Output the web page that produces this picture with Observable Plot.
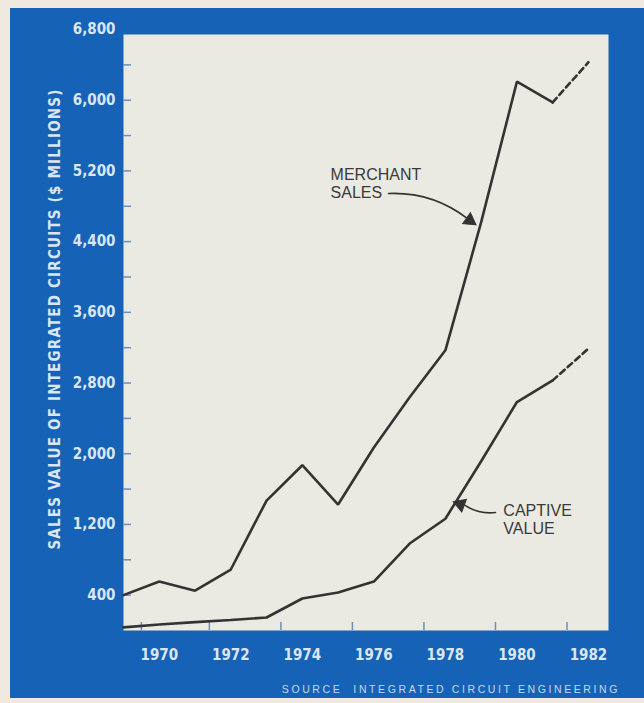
<!DOCTYPE html>
<html>
<head>
<meta charset="utf-8">
<script src="https://cdn.jsdelivr.net/npm/d3@7"></script>
<script src="https://cdn.jsdelivr.net/npm/@observablehq/plot@0.6"></script>
<style>
  html, body { margin: 0; padding: 0; background: #efe9df; }
  #panel { position: absolute; left: 10px; top: 8px; width: 634px; height: 690px; background: #1662b6; overflow: hidden; }
  #chart svg { display: block; }
  #caption { position: absolute; left: 0; right: 24px; top: 675px; text-align: right;
    font-family: "Liberation Sans", Arial, sans-serif; font-size: 10.5px; letter-spacing: 2.6px; color: #c9d8ec; }
  g[aria-label="y-axis label"] text { letter-spacing: 1.2px; }
</style>
</head>
<body>
<div id="panel">
  <div id="chart"></div>
  <div id="caption">SOURCE&nbsp; INTEGRATED CIRCUIT ENGINEERING</div>
</div>
<script>
// ---- data ----
const years = [1969, 1970, 1971, 1972, 1973, 1974, 1975, 1976, 1977, 1978, 1979, 1980, 1981];
const merchant = [400, 555, 450, 690, 1470, 1870, 1425, 2070, 2640, 3170, 4620, 6210, 5975];
const captive = [35, 68, 95, 119, 147, 362, 430, 554, 984, 1265, 1915, 2585, 2830];
const projYears = [1981, 1982];
const merchantProj = [5975, 6430];
const captiveProj = [2830, 3190];
const yTickLabels = [400, 1200, 2000, 2800, 3600, 4400, 5200, 6000, 6800];
const yTickMarks = [400, 800, 1200, 1600, 2000, 2400, 2800, 3200, 3600, 4000, 4400, 4800, 5200, 5600, 6000, 6400];
const xTickLabels = [1970, 1972, 1974, 1976, 1978, 1980, 1982];
const xTickMarks = [1969.5, 1971.4, 1973.4, 1975.4, 1977.4, 1979.4, 1981.4];
const labels = [
  {text: "MERCHANT\nSALES", year: 1974.79, value: 5239},
  {text: "CAPTIVE\nVALUE", year: 1979.62, value: 1437}
];
const arrows = [
  {x1: 1976.41, y1: 4945, x2: 1978.62, y2: 4660},
  {x1: 1979.40, y1: 1335, x2: 1978.55, y2: 1415}
];
const heads = [
  {year: 1978.68, value: 4640, angle: 125},
  {year: 1978.42, value: 1428, angle: 290}
];

const mainData = years.flatMap((y, i) => [
  {year: y, value: merchant[i], series: "merchant"},
  {year: y, value: captive[i], series: "captive"}
]);
const projData = projYears.flatMap((y, i) => [
  {year: y, value: merchantProj[i], series: "merchant"},
  {year: y, value: captiveProj[i], series: "captive"}
]);

const ink = "#333333";
const axisText = "#dbe6f3";
const tickBlue = "#6b8fc4";
const condensed = "'Liberation Sans Narrow', 'DejaVu Sans Condensed', 'Roboto Condensed', Roboto, sans-serif";

const chart = Plot.plot({
  width: 634,
  height: 665,
  marginLeft: 113,
  marginRight: 36,
  marginTop: 21,
  marginBottom: 43,
  x: {domain: [1969, 1982.56]},
  y: {domain: [0, 6800]},
  style: {background: "transparent", overflow: "visible"},
  marks: [
    Plot.frame({fill: "#eae9e2", insetTop: 5}),
    Plot.axisY(yTickMarks, {tickSize: -8, tickFormat: () => "", stroke: tickBlue, strokeWidth: 1.5, label: null}),
    Plot.axisY(yTickLabels, {
      tickSize: 0, tickPadding: 8, tickFormat: d3.format(","),
      fontSize: 15, fontWeight: "bold", fontFamily: condensed, fill: axisText,
      label: "SALES VALUE OF INTEGRATED CIRCUITS ($ MILLIONS)", labelAnchor: "center", labelArrow: "none", labelOffset: 74
    }),
    Plot.axisX(xTickMarks, {tickSize: -8, tickFormat: () => "", stroke: tickBlue, strokeWidth: 1.5, label: null}),
    Plot.axisX(xTickLabels, {
      tickSize: 0, tickPadding: 19, tickFormat: d => String(d),
      fontSize: 15, fontWeight: "bold", fontFamily: condensed, fill: axisText, label: null
    }),
    Plot.line(mainData, {x: "year", y: "value", z: "series", stroke: ink, strokeWidth: 2.6, strokeLinejoin: "miter"}),
    Plot.line(projData, {x: "year", y: "value", z: "series", stroke: ink, strokeWidth: 2.6, strokeDasharray: "6,4"}),
    Plot.arrow(arrows, {x1: "x1", y1: "y1", x2: "x2", y2: "y2", bend: 20, headLength: 0, stroke: ink, strokeWidth: 1.6}),
    Plot.dot(heads, {x: "year", y: "value", symbol: "triangle", r: 5, rotate: "angle", fill: ink, stroke: ink, strokeWidth: 1}),
    Plot.text(labels, {x: "year", y: "value", text: "text", textAnchor: "start", lineAnchor: "top", lineHeight: 1.12,
      fontSize: 16, fontFamily: "'Liberation Sans', Arial, sans-serif", fill: "#3a3a3a"})
  ]
});
// nudge the axis title up to match the original's placement
const titleG = chart.querySelector('g[aria-label="y-axis label"]');
if (titleG) {
  const t = titleG.getAttribute("transform") || "";
  titleG.setAttribute("transform", (t + " translate(0,-11)").trim());
}
document.getElementById("chart").appendChild(chart);
</script>
</body>
</html>
